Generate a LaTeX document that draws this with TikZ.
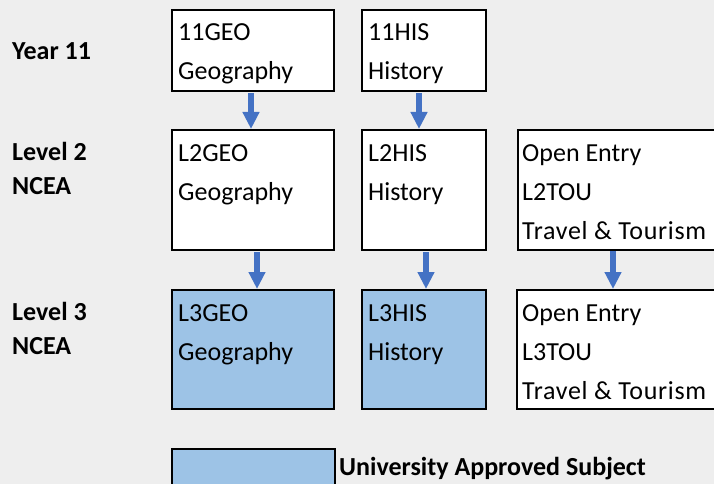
\documentclass[tikz,border=0pt]{standalone}
\usepackage{fontspec}
\setmainfont{Carlito}
\usetikzlibrary{arrows.meta}
\definecolor{bg}{HTML}{EEEEEE}
\definecolor{uni}{HTML}{9DC3E6}
\definecolor{arrblue}{HTML}{4472C4}
\tikzset{
  box/.style={draw=black, line width=2pt, fill=white, inner sep=0pt, anchor=north west},
  unibox/.style={box, fill=uni},
  txt/.style={inner sep=0pt, anchor=base west, font=\fontsize{26}{30}\selectfont},
  widetxt/.style={txt, font=\fontsize{26}{30}\selectfont\addfontfeature{LetterSpace=2.6}},
  lbl/.style={inner sep=0pt, anchor=base west, font=\fontsize{26}{30}\selectfont\bfseries},
  arr/.style={draw=arrblue, line width=6pt, -{Triangle[width=16pt,length=17pt]}}
}
\begin{document}
\begin{tikzpicture}[x=1pt,y=-1pt]
\useasboundingbox (0,0) rectangle (714,484);
\clip (0,0) rectangle (714,484);
\fill[bg] (0,0) rectangle (714,484);

% row labels
\node[lbl] (ly11) at (12,60) {Year 11};
\node[lbl] (ll2a) at (12,160) {Level 2};
\node[lbl] (ll2b) at (12,194) {NCEA};
\node[lbl] (ll3a) at (12,320) {Level 3};
\node[lbl] (ll3b) at (12,354) {NCEA};

% boxes
\node[box, minimum width=162pt, minimum height=81pt] (g11) at (171,9) {};
\node[box, minimum width=124pt, minimum height=81pt] (h11) at (361,9) {};
\node[box, minimum width=162pt, minimum height=120pt] (g2) at (171,129) {};
\node[box, minimum width=124pt, minimum height=120pt] (h2) at (361,129) {};
\node[box, minimum width=220pt, minimum height=120pt] (t2) at (517,129) {};
\node[unibox, minimum width=162pt, minimum height=119pt] (g3) at (171,289) {};
\node[unibox, minimum width=124pt, minimum height=119pt] (h3) at (361,289) {};
\node[box, minimum width=220pt, minimum height=119pt] (t3) at (516,289) {};
\node[unibox, minimum width=163pt, minimum height=60pt] (leg) at (171,448) {};

% texts
\node[txt] (g11a) at (178,41) {11GEO};
\node[txt] (g11b) at (178,80) {Geography};
\node[txt] (h11a) at (368,41) {11HIS};
\node[txt] (h11b) at (368,80) {History};

\node[txt] (g2a) at (178,161) {L2GEO};
\node[txt] (g2b) at (178,200) {Geography};
\node[txt] (h2a) at (368,161) {L2HIS};
\node[txt] (h2b) at (368,200) {History};
\node[txt] (t2a) at (522,161) {Open Entry};
\node[txt] (t2b) at (522,200) {L2TOU};
\node[widetxt] (t2c) at (522,239) {Travel \& Tourism};

\node[txt] (g3a) at (178,321) {L3GEO};
\node[txt] (g3b) at (178,360) {Geography};
\node[txt] (h3a) at (368,321) {L3HIS};
\node[txt] (h3b) at (368,360) {History};
\node[txt] (t3a) at (522,321) {Open Entry};
\node[txt] (t3b) at (522,360) {L3TOU};
\node[widetxt] (t3c) at (522,399) {Travel \& Tourism};

\node[lbl] (legt) at (339,475) {University Approved Subject};

% arrows
\draw[arr] ([xshift=-2pt,yshift=-1pt]g11.south) -- ([xshift=-2pt]g2.north);
\draw[arr] ([xshift=-5pt,yshift=-1pt]h11.south) -- ([xshift=-5pt]h2.north);
\draw[arr] ([xshift=4pt,yshift=-1pt]g2.south) -- ([xshift=4pt]g3.north);
\draw[arr] ([xshift=2pt,yshift=-1pt]h2.south) -- ([xshift=2pt]h3.north);
\draw[arr] (613,251) coordinate (t2s) -- (t2s |- t3.north);
\end{tikzpicture}
\end{document}
